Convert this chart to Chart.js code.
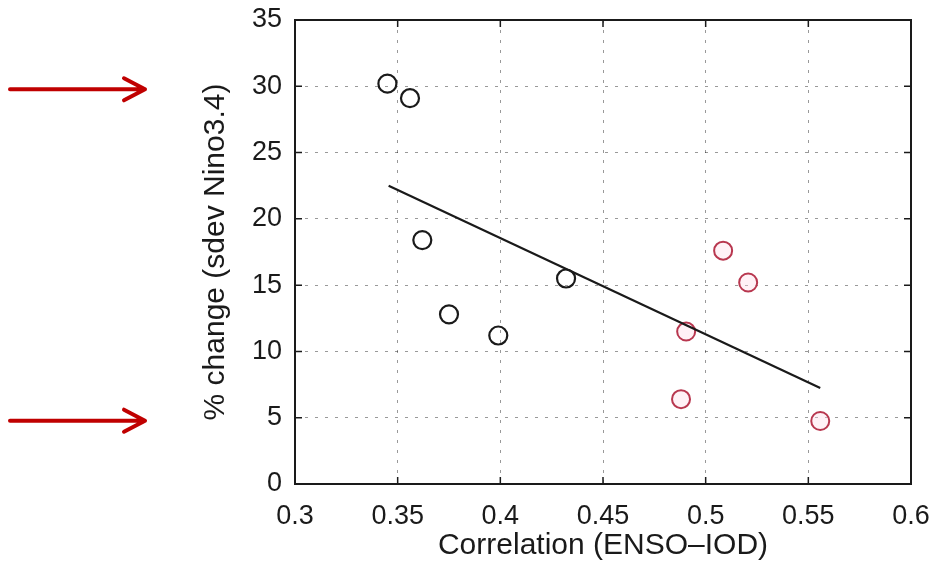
<!DOCTYPE html>
<html>
<head>
<meta charset="utf-8">
<script src="https://cdn.jsdelivr.net/npm/chart.js@4.4.1/dist/chart.umd.min.js"></script>
<style>
  html, body { margin:0; padding:0; background:#fff; }
  #wrap { width:937px; height:566px; }
</style>
</head>
<body>
<div id="wrap"><canvas id="c" width="937" height="566"></canvas></div>
<script>
// values
const blackX = [0.345, 0.356, 0.362, 0.375, 0.399, 0.432];
const blackY = [30.2, 29.1, 18.4, 12.8, 11.2, 15.5];
const redX = [0.5085, 0.5207, 0.4905, 0.488, 0.5558];
const redY = [17.6, 15.2, 11.5, 6.4, 4.75];
const fitX = [0.3456, 0.5558];
const fitY = [22.5, 7.24];
const xTicks = [0.3, 0.35, 0.4, 0.45, 0.5, 0.55, 0.6];
const yTicks = [0, 5, 10, 15, 20, 25, 30, 35];
const arrowTargets = [30, 5];

const FONT = "'Liberation Sans', Arial, Helvetica, sans-serif";
const INK = '#1a1a1a';
const RED = '#b8374f';

const pts = (xs, ys) => xs.map((x, i) => ({ x, y: ys[i] }));

// box + inner ticks (matlab style) + red arrows on the left
const framePlugin = {
  id: 'frame',
  beforeDatasetsDraw(chart) {
    const { ctx, chartArea: a, scales } = chart;
    ctx.save();
    ctx.strokeStyle = INK;
    ctx.lineWidth = 1.5;
    const tl = 7;
    xTicks.forEach(v => {
      const px = scales.x.getPixelForValue(v);
      ctx.beginPath();
      ctx.moveTo(px, a.bottom); ctx.lineTo(px, a.bottom - tl);
      ctx.moveTo(px, a.top); ctx.lineTo(px, a.top + tl);
      ctx.stroke();
    });
    yTicks.forEach(v => {
      const py = scales.y.getPixelForValue(v);
      ctx.beginPath();
      ctx.moveTo(a.left, py); ctx.lineTo(a.left + tl, py);
      ctx.moveTo(a.right, py); ctx.lineTo(a.right - tl, py);
      ctx.stroke();
    });
    ctx.lineWidth = 2;
    ctx.strokeRect(a.left, a.top, a.right - a.left, a.bottom - a.top);
    ctx.restore();
  },
  afterDraw(chart) {
    const { ctx, scales } = chart;
    ctx.save();
    ctx.strokeStyle = '#c00000';
    ctx.lineWidth = 4;
    ctx.lineCap = 'round';
    ctx.lineJoin = 'round';
    arrowTargets.forEach(v => {
      const py = scales.y.getPixelForValue(v) + 3;
      const x0 = 10, x1 = 145;
      ctx.beginPath();
      ctx.moveTo(x0, py); ctx.lineTo(x1, py);
      ctx.moveTo(x1 - 21, py - 11); ctx.lineTo(x1, py); ctx.lineTo(x1 - 21, py + 11);
      ctx.stroke();
    });
    ctx.restore();
  }
};

new Chart(document.getElementById('c'), {
  type: 'scatter',
  data: {
    datasets: [
      {
        type: 'line',
        data: pts(fitX, fitY),
        borderColor: INK,
        borderWidth: 2.2,
        pointRadius: 0,
        fill: false,
      },
      {
        data: pts(blackX, blackY),
        borderColor: INK,
        backgroundColor: 'rgba(0,0,0,0)',
        pointRadius: 9,
        pointBorderWidth: 2.2,
      },
      {
        data: pts(redX, redY),
        borderColor: RED,
        backgroundColor: 'rgba(255,215,230,0.35)',
        pointRadius: 9,
        pointBorderWidth: 2,
      },
    ],
  },
  options: {
    responsive: false,
    animation: false,
    layout: { padding: { left: 190, top: 20, right: 26, bottom: 0 } },
    plugins: { legend: { display: false }, tooltip: { enabled: false } },
    scales: {
      x: {
        type: 'linear',
        min: 0.3, max: 0.6,
        afterBuildTicks: s => { s.ticks = xTicks.map(v => ({ value: v })); },
        afterFit: s => { s.height = 82; s.paddingLeft = 0; s.paddingRight = 0; },
        grid: { color: 'rgba(0,0,0,0.4)', lineWidth: 1, drawTicks: false },
        border: { display: false, dash: [3, 7] },
        ticks: {
          padding: 16,
          color: INK,
          font: { family: FONT, size: 27 },
          callback: v => String(parseFloat(v.toFixed(2))),
        },
        title: {
          display: true,
          text: 'Correlation (ENSO–IOD)',
          color: INK,
          font: { family: FONT, size: 30 },
          padding: { top: 0, bottom: 2 },
        },
      },
      y: {
        type: 'linear',
        min: 0, max: 35,
        afterBuildTicks: s => { s.ticks = yTicks.map(v => ({ value: v })); },
        afterFit: s => { s.width = 105; s.paddingTop = 0; s.paddingBottom = 0; },
        grid: { color: 'rgba(0,0,0,0.4)', lineWidth: 1, drawTicks: false },
        border: { display: false, dash: [3, 7] },
        ticks: {
          padding: 13,
          color: INK,
          font: { family: FONT, size: 27 },
        },
        title: {
          display: true,
          text: '% change (sdev Nino3.4)',
          color: INK,
          font: { family: FONT, size: 30 },
          padding: { top: 8, bottom: 0 },
        },
      },
    },
  },
  plugins: [framePlugin],
});
</script>
</body>
</html>
